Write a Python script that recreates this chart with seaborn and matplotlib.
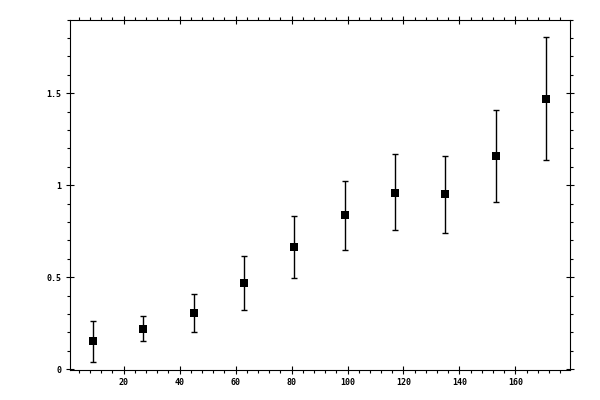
import matplotlib
matplotlib.use("Agg")
import matplotlib.pyplot as plt
import matplotlib.ticker as ticker
import numpy as np
import pandas as pd
import seaborn as sns

# values
xVals = [9, 27, 45, 63, 81, 99, 117, 135, 153, 171]
yVals = [0.152, 0.217, 0.304, 0.467, 0.662, 0.836, 0.960, 0.951, 1.156, 1.470]
yLow = [0.038, 0.154, 0.201, 0.320, 0.495, 0.646, 0.754, 0.738, 0.906, 1.139]
yHigh = [0.262, 0.288, 0.409, 0.615, 0.830, 1.020, 1.167, 1.157, 1.411, 1.808]
xTicks = [20, 40, 60, 80, 100, 120, 140, 160]
yTicks = [0, 0.5, 1, 1.5]

sns.set_style("ticks")
plt.rcParams['font.family'] = ['DejaVu Sans Mono']
fontSize = 6
lineWidth = 0.8

df = pd.DataFrame({"x": xVals, "y": yVals, "lo": yLow, "hi": yHigh})

fig = plt.figure(figsize=(6, 4), dpi=100)
ax = fig.add_axes([0.116, 0.075, 0.834, 0.876])

err = np.array([df["y"] - df["lo"], df["hi"] - df["y"]])
ax.errorbar(df["x"], df["y"], yerr=err, fmt='none', ecolor='black',
            elinewidth=1.0, capsize=2.2, capthick=1.0, zorder=2)
sns.scatterplot(data=df, x="x", y="y", ax=ax, marker='s', s=28,
                color='black', edgecolor='black', linewidth=0, zorder=3)

ax.set(xlim=(0.7, 179.5), ylim=(-0.005, 1.9))
ax.set_xlabel("")
ax.set_ylabel("")
ax.xaxis.set_major_locator(ticker.FixedLocator(xTicks))
ax.xaxis.set_minor_locator(ticker.MultipleLocator(4))
ax.yaxis.set_major_locator(ticker.FixedLocator(yTicks))
ax.yaxis.set_minor_locator(ticker.MultipleLocator(0.1))
ax.yaxis.set_major_formatter(ticker.FormatStrFormatter('%g'))
ax.xaxis.set_major_formatter(ticker.FormatStrFormatter('%g'))

for s in ax.spines.values():
    s.set_visible(True)
    s.set_linewidth(lineWidth)
    s.set_color('black')

ax.tick_params(which='major', direction='inout', length=5.5, width=lineWidth,
               top=True, right=True, labelsize=fontSize, pad=3, color='black',
               labelcolor='black')
ax.tick_params(which='minor', direction='out', length=2.4, width=lineWidth,
               top=True, right=True, color='black')
for lbl in ax.get_xticklabels() + ax.get_yticklabels():
    lbl.set_fontweight('bold')

plt.savefig("out.png", dpi=100)
